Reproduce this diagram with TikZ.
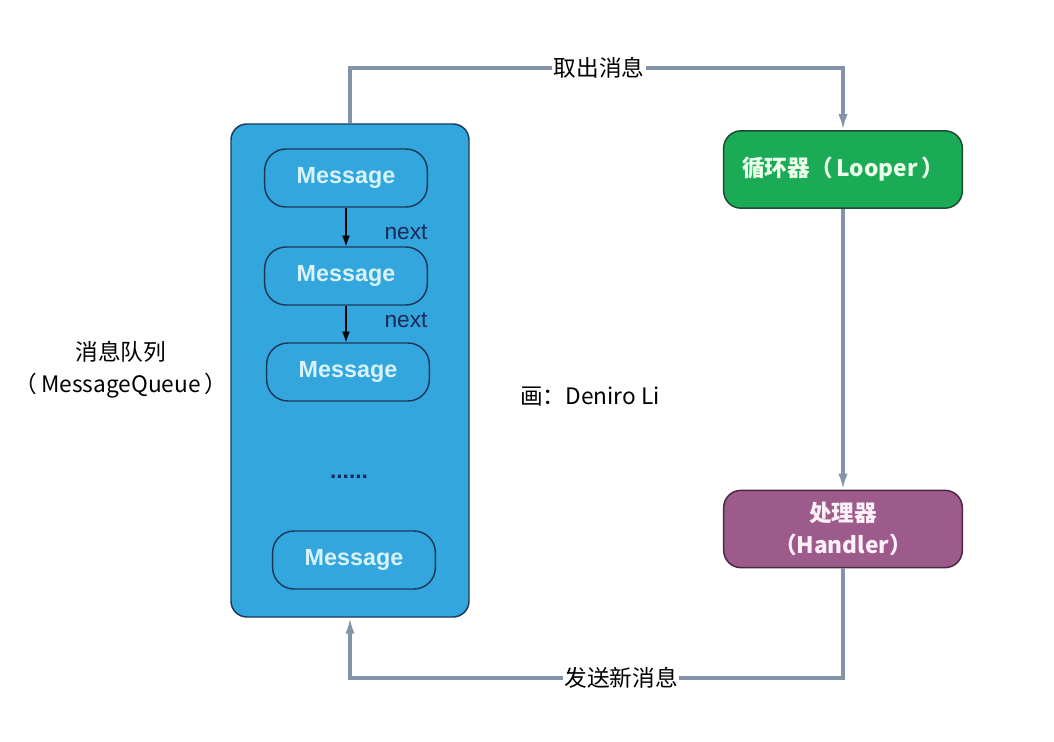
\documentclass[tikz,border=0pt]{standalone}
\usepackage{fontspec}
\setmainfont{Liberation Sans}
\newfontfamily\cjk{Noto Sans CJK SC}
\usetikzlibrary{arrows.meta}

\definecolor{qblue}{HTML}{34A6DE}
\definecolor{qedge}{HTML}{1B3A5A}
\definecolor{lgreen}{HTML}{1BAA56}
\definecolor{ledge}{HTML}{1D4A30}
\definecolor{hpurple}{HTML}{9C5B8B}
\definecolor{hedge}{HTML}{4A2842}
\definecolor{link}{HTML}{8294AA}
\definecolor{nextc}{HTML}{1A2A5A}

\tikzset{
  msgbox/.style={draw=qedge, fill=qblue, line width=1.1pt, rounded corners=16pt,
    minimum width=122pt, minimum height=43.5pt, text=white!85!cyan,
    font=\bfseries\fontsize{17.5}{20}\selectfont},
  workbox/.style={line width=1.1pt, rounded corners=13pt, minimum width=179pt,
    minimum height=58pt, align=center, font=\cjk\bfseries\fontsize{17}{24}\selectfont},
  link/.style={draw=link, line width=2.3pt, -{Latex[length=12pt,width=7pt]}},
  linklabel/.style={fill=white, inner sep=1pt, font=\cjk\fontsize{17}{20}\selectfont},
  nextlabel/.style={text=nextc, font=\fontsize{17}{20}\selectfont}
}

\begin{document}
\begin{tikzpicture}[x=0.75pt, y=-0.75pt]
\useasboundingbox (0,0) rectangle (1054,742);

% message queue
\node[draw=qedge, fill=qblue, line width=1.1pt, rounded corners=12pt,
  minimum width=178.5pt, minimum height=369.75pt] (queue) at (350,370.5) {};
\node[msgbox] (m1) at (346,178) {Message};
\node[msgbox] (m2) at (346,276) {Message};
\node[msgbox] (m3) at (348,372) {Message};
\node[text=nextc, font=\bfseries\fontsize{17}{20}\selectfont] (dots) at (349,477) {......};
\node[msgbox] (m4) at (354,560) {Message};
\draw[black, line width=1pt, -{Latex[length=8pt,width=6pt]}] (m1) -- (m2);
\draw[black, line width=1pt, -{Latex[length=8pt,width=6pt]}] (m2.south) -- (m2.south |- m3.north);
\node[nextlabel] (n1) at (406,232) {next};
\node[nextlabel] (n2) at (406,320) {next};

\node[align=center, font=\cjk\fontsize{17}{24}\selectfont] (qname) at (121,370) {消息队列\\（\,MessageQueue\,）};
\node[font=\cjk\fontsize{17}{20}\selectfont] (author) at (590,397) {画：Deniro Li};

% looper and handler
\node[workbox, draw=ledge, fill=lgreen, text=white!92!green] (looper) at (843,169.5) {循环器（\,Looper\,）};
\node[workbox, draw=hedge, fill=hpurple, text=white!94!magenta] (handler) at (843,529) {处理器\\（Handler）};

% connectors
\node[linklabel] (take) at (599,68) {取出消息};
\node[linklabel] (send) at (621,678) {发送新消息};
\draw[link] (queue.north) |- (take) -| (looper.north);
\draw[link] (looper) -- (handler);
\draw[link] (handler.south) |- (send) -| (queue.south);
\end{tikzpicture}
\end{document}
